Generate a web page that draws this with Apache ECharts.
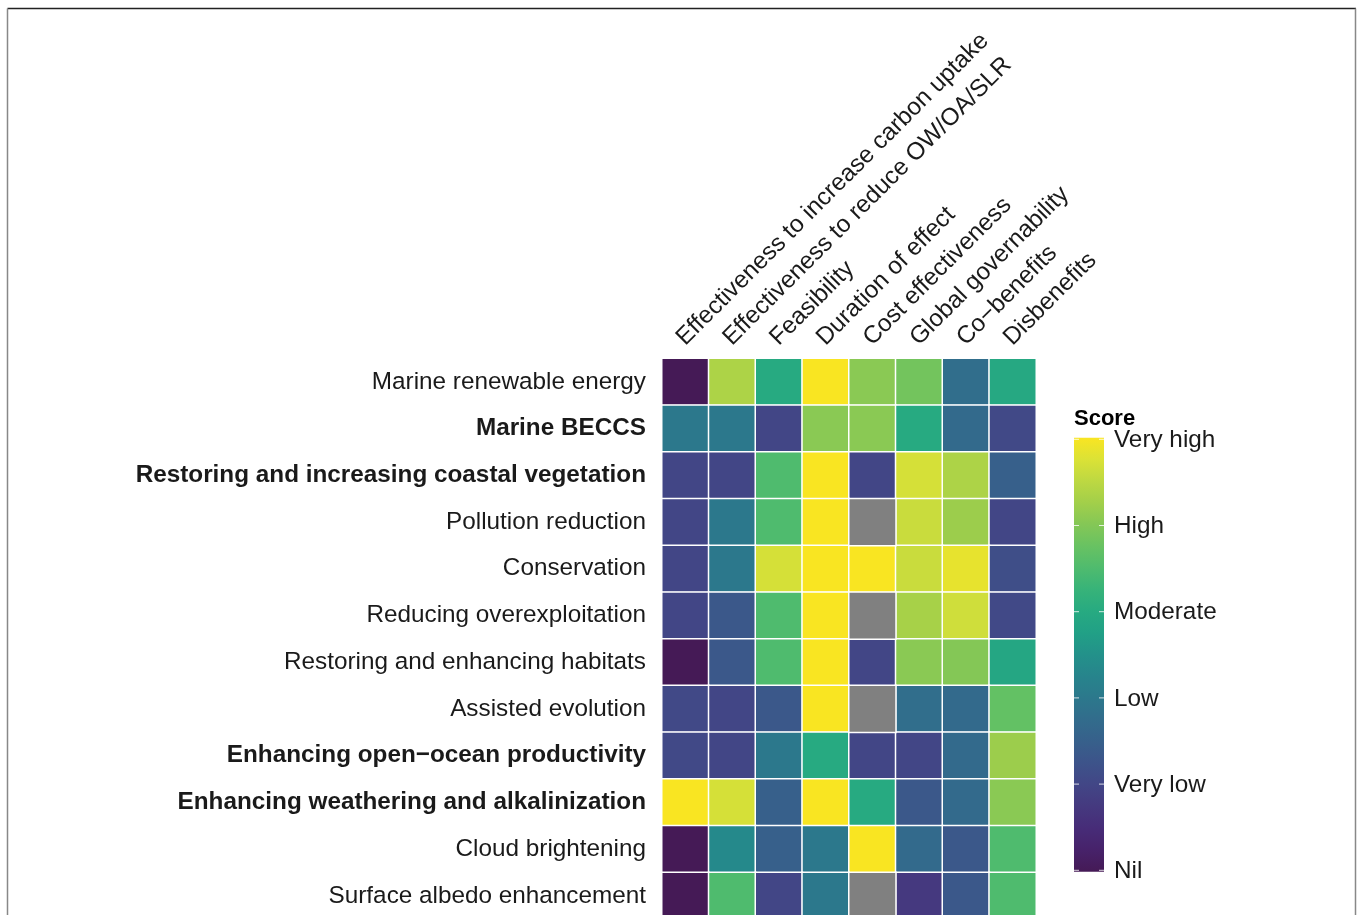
<!DOCTYPE html>
<html>
<head>
<meta charset="utf-8">
<script src="https://cdn.jsdelivr.net/npm/echarts@6/dist/echarts.min.js"></script>
<style>
html,body{margin:0;padding:0;background:#fff;}
#chart{width:1357px;height:915px;}
</style>
</head>
<body>
<div id="chart"></div>
<script>
// ---- data ----
const criteria = [
  'Effectiveness to increase carbon uptake',
  'Effectiveness to reduce OW/OA/SLR',
  'Feasibility',
  'Duration of effect',
  'Cost effectiveness',
  'Global governability',
  'Co\u2212benefits',
  'Disbenefits'
];
const options = [
  'Marine renewable energy',
  'Marine BECCS',
  'Restoring and increasing coastal vegetation',
  'Pollution reduction',
  'Conservation',
  'Reducing overexploitation',
  'Restoring and enhancing habitats',
  'Assisted evolution',
  'Enhancing open\u2212ocean productivity',
  'Enhancing weathering and alkalinization',
  'Cloud brightening',
  'Surface albedo enhancement'
];
const boldOptions = [
  'Marine BECCS',
  'Restoring and increasing coastal vegetation',
  'Enhancing open\u2212ocean productivity',
  'Enhancing weathering and alkalinization'
];
const scoreLevels = ['Nil', 'Very low', 'Low', 'Moderate', 'High', 'Very high'];

// scores 0 (Nil) .. 5 (Very high); null = not assessed (grey)
const marineRenewableEnergy   = [0.0, 4.35, 3.0, 5.0, 4.05, 3.85, 1.8, 2.95];
const marineBECCS             = [2.0, 2.0, 1.0, 4.05, 4.05, 3.0, 1.7, 1.05];
const coastalVegetation       = [1.0, 1.0, 3.5, 5.0, 1.0, 4.7, 4.35, 1.5];
const pollutionReduction      = [1.0, 2.0, 3.5, 5.0, null, 4.6, 4.2, 1.0];
const conservation            = [1.0, 2.0, 4.7, 5.0, 5.0, 4.6, 4.85, 1.15];
const reducingOverexploitation= [1.0, 1.35, 3.5, 5.0, null, 4.3, 4.65, 1.05];
const restoringHabitats       = [0.0, 1.35, 3.5, 5.0, 1.0, 4.05, 4.0, 2.9];
const assistedEvolution       = [1.05, 1.0, 1.35, 5.0, null, 1.8, 1.7, 3.7];
const openOceanProductivity   = [1.05, 1.0, 2.0, 3.0, 1.0, 1.0, 1.7, 4.2];
const weatheringAlkalinization= [5.0, 4.7, 1.5, 5.0, 3.0, 1.35, 1.7, 4.05];
const cloudBrightening        = [0.0, 2.35, 1.5, 2.0, 5.0, 1.7, 1.35, 3.5];
const surfaceAlbedo           = [0.0, 3.5, 1.0, 2.0, null, 0.75, 1.35, 3.5];

const rows = [
  marineRenewableEnergy, marineBECCS, coastalVegetation, pollutionReduction,
  conservation, reducingOverexploitation, restoringHabitats, assistedEvolution,
  openOceanProductivity, weatheringAlkalinization, cloudBrightening, surfaceAlbedo
];

// ---- build ----
// viridis, slightly softened as in the reference rendering
const viridis = ['#451a56','#47226a','#472c78','#45397f','#424686','#3d538a','#37608b',
  '#326c8c','#2c788c','#27848c','#23918a','#21a086','#27aa81','#37b379','#4fbb6e',
  '#68c262','#84c756','#a2cf4a','#bdd842','#dbe236','#f9e522'];

const cells = [], naCells = [];
rows.forEach((r, yi) => r.forEach((v, xi) => {
  if (v === null) naCells.push([xi, yi, 0]); else cells.push([xi, yi, v]);
}));

const gridLeft = 662, gridTop = 358.5, cellW = 46.75, cellH = 46.73;
const gridW = cellW * criteria.length, gridH = cellH * options.length;
const fontFamily = '"Liberation Sans", Arial, sans-serif';
const fs = 24.3;

// legend geometry
const legX = 1074, barTop = 437.7, barBot = 871.7, tickTop = 439.3, tickBot = 870.3, legW = 30;
const graphics = [];
graphics.push({
  type: 'rect', shape: {x: legX, y: barTop, width: legW, height: barBot - barTop},
  style: {fill: new echarts.graphic.LinearGradient(0, 1, 0, 0,
    viridis.map((c, i) => ({offset: i / (viridis.length - 1), color: c})))}
});
scoreLevels.forEach((lab, i) => {
  const y = tickBot - i * (tickBot - tickTop) / (scoreLevels.length - 1);
  graphics.push({type: 'line', shape: {x1: legX, y1: y, x2: legX + 5, y2: y},
    style: {stroke: '#ffffff', lineWidth: 1, opacity: 0.8}});
  graphics.push({type: 'line', shape: {x1: legX + legW - 5, y1: y, x2: legX + legW, y2: y},
    style: {stroke: '#ffffff', lineWidth: 1, opacity: 0.8}});
  graphics.push({type: 'text', x: legX + legW + 10, y: y + 1,
    style: {text: lab, fill: '#1a1a1a', font: fs + 'px ' + fontFamily,
      textVerticalAlign: 'middle', textAlign: 'left'}});
});
graphics.push({type: 'text', x: legX, y: 419,
  style: {text: 'Score', fill: '#000', font: 'bold 22px ' + fontFamily,
    textVerticalAlign: 'middle', textAlign: 'left'}});
// outer frame
graphics.push({type: 'line', shape: {x1: 7.5, y1: 8.5, x2: 1356, y2: 8.5}, style: {stroke: '#222', lineWidth: 1.5}});
graphics.push({type: 'line', shape: {x1: 7.5, y1: 8.5, x2: 7.5, y2: 915}, style: {stroke: '#888', lineWidth: 1.5}});
graphics.push({type: 'line', shape: {x1: 1355.5, y1: 8.5, x2: 1355.5, y2: 915}, style: {stroke: '#888', lineWidth: 1.5}});

const chart = echarts.init(document.getElementById('chart'), null, {renderer: 'canvas'});
chart.setOption({
  backgroundColor: '#ffffff',
  animation: false,
  grid: {left: gridLeft, top: gridTop, width: gridW, height: gridH, containLabel: false, outerBoundsMode: 'none'},
  xAxis: {
    type: 'category', data: criteria, position: 'top',
    axisLine: {show: false}, axisTick: {show: false}, splitLine: {show: false},
    axisLabel: {rotate: -45, interval: 0, margin: 12, verticalAlign: 'bottom', lineHeight: 14,
      color: '#1a1a1a', fontSize: fs, fontFamily: fontFamily}
  },
  yAxis: {
    type: 'category', data: options, inverse: true,
    axisLine: {show: false}, axisTick: {show: false}, splitLine: {show: false},
    axisLabel: {
      interval: 0, margin: 16, color: '#1a1a1a', fontSize: fs, fontFamily: fontFamily,
      formatter: v => boldOptions.includes(v) ? '{b|' + v + '}' : v,
      rich: {b: {fontWeight: 'bold', fontSize: fs, color: '#1a1a1a', fontFamily: fontFamily}}
    }
  },
  visualMap: {
    show: false, type: 'continuous', min: 0, max: 5, seriesIndex: 0,
    inRange: {color: viridis}
  },
  series: [
    {type: 'heatmap', data: cells, itemStyle: {borderColor: '#ffffff', borderWidth: 1.5}, emphasis: {disabled: true}},
    {type: 'heatmap', data: naCells, itemStyle: {color: '#808080', borderColor: '#ffffff', borderWidth: 1.5}, emphasis: {disabled: true}}
  ],
  graphic: graphics
});
</script>
</body>
</html>
